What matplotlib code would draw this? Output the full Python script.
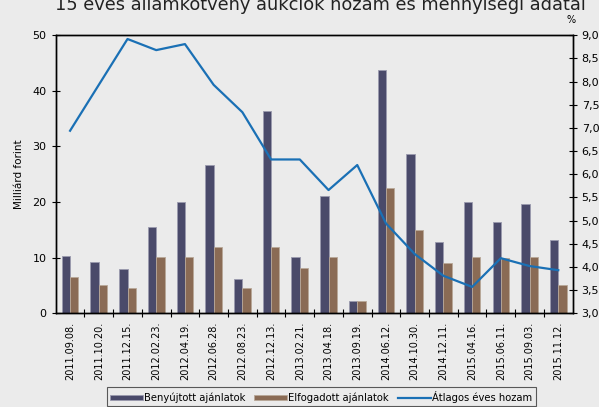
import matplotlib.pyplot as plt
import numpy as np

dates = ['2011.09.08.', '2011.10.20.', '2011.12.15.', '2012.02.23.', '2012.04.19.',
         '2012.06.28.', '2012.08.23.', '2012.12.13.', '2013.02.21.', '2013.04.18.',
         '2013.09.19.', '2014.06.12.', '2014.10.30.', '2014.12.11.', '2015.04.16.',
         '2015.06.11.', '2015.09.03.', '2015.11.12.']
benyujtott = [10.3, 9.2, 7.9, 15.5, 20.1, 26.6, 6.2, 36.3, 10.1, 21.1, 2.3, 43.8,
              28.7, 12.9, 20.0, 16.4, 19.6, 13.1]
elfogadott = [6.6, 5.1, 4.55, 10.1, 10.1, 12.0, 4.55, 12.0, 8.1, 10.1, 2.3, 22.5,
              15.0, 9.0, 10.1, 10.0, 10.1, 5.1]
hozam = [6.94, 7.93, 8.92, 8.68, 8.81, 7.93, 7.34, 6.32, 6.32, 5.66, 6.2, 4.94,
         4.28, 3.81, 3.57, 4.19, 4.02, 3.93]

bg = '#ebebeb'
plt.rcParams['font.family'] = ['DejaVu Sans']

fig = plt.figure(figsize=(5.99, 4.07), dpi=100, facecolor=bg)
ax = fig.add_axes([0.093, 0.2302, 0.863, 0.6831], facecolor=bg)

x = np.arange(len(dates))
w = 0.29
ax.bar(x - w / 2, benyujtott, w, color='#4a4a6a', edgecolor='#9a9aae', linewidth=0.6,
       label='Benyújtott ajánlatok')
ax.bar(x + w / 2, elfogadott, w, color='#8a6b55', edgecolor='#b8a898', linewidth=0.6,
       label='Elfogadott ajánlatok')
ax.set_xlim(-0.5, len(dates) - 0.5)
ax.set_ylim(0, 50)
ax.set_yticks(range(0, 51, 10))
ax.set_xticks(x)
ax.set_xticklabels(dates, rotation=90, fontsize=7)
ax.set_xticks(np.arange(0.5, len(dates) - 0.5, 1), minor=True)
ax.tick_params(axis='x', which='major', length=0, pad=6)
ax.tick_params(axis='x', which='minor', length=6, direction='inout', width=0.8)
ax.tick_params(axis='y', labelsize=8, direction='inout', length=6, width=0.8)
ax.set_ylabel('Milliárd forint', fontsize=7.5, labelpad=6)

ax2 = ax.twinx()
ax2.plot(x, hozam, color='#1a70b5', linewidth=1.6, label='Átlagos éves hozam')
ax2.set_ylim(3, 9)
ax2.set_yticks(np.arange(3, 9.01, 0.5))
ax2.set_yticklabels([f'{v:.1f}'.replace('.', ',') for v in np.arange(3, 9.01, 0.5)])
ax2.tick_params(axis='y', labelsize=8, direction='inout', length=6, width=0.8)

for a in (ax, ax2):
    for s in a.spines.values():
        s.set_linewidth(1.0)

# title is partly cut by the top edge, as in the original picture
fig.text(0.535, 0.975, '15 éves államkötvény aukciók hozam és mennyiségi adatai',
         ha='center', va='baseline', fontsize=12.8, color='#222222')
fig.text(0.953, 0.951, '%', ha='center', va='center', fontsize=7)

h1, l1 = ax.get_legend_handles_labels()
h2, l2 = ax2.get_legend_handles_labels()
leg = fig.legend(h1 + h2, l1 + l2, loc='upper center', bbox_to_anchor=(0.536, 0.048),
                 ncol=3, fontsize=7.2, frameon=True, fancybox=False, edgecolor='#333333',
                 handlelength=3.3, handleheight=0.5, columnspacing=0.9, handletextpad=0.1,
                 borderpad=0.35, borderaxespad=0)
leg.get_frame().set_facecolor(bg)
leg.get_frame().set_linewidth(0.8)

fig.savefig('out.png', dpi=100, facecolor=bg)
